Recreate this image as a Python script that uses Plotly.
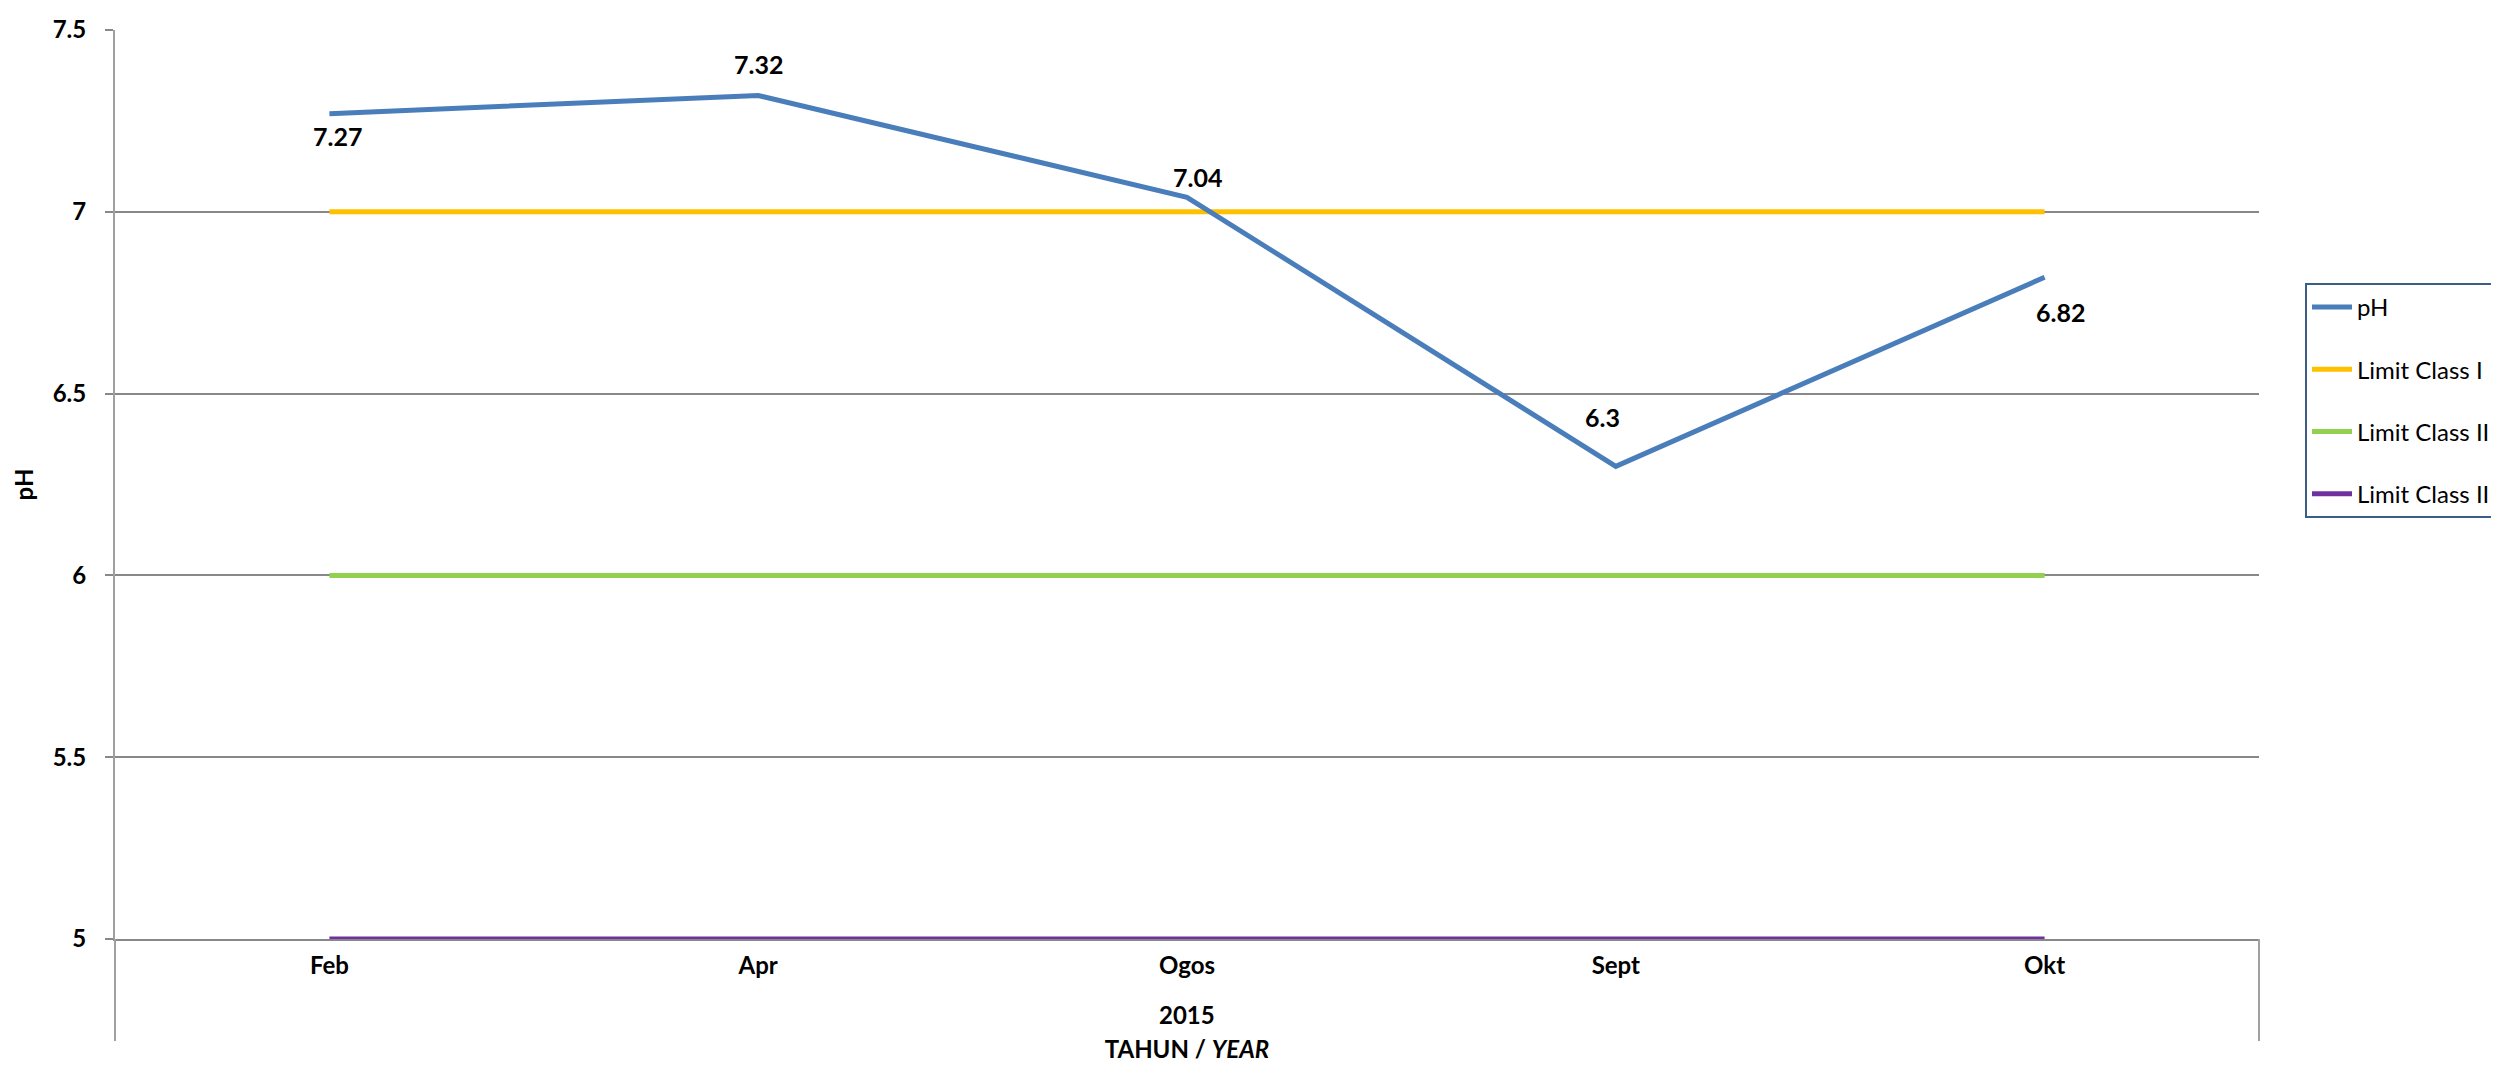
import plotly.graph_objects as go

months = ["Feb", "Apr", "Ogos", "Sept", "Okt"]
year_label = "2015"
ph_values = [7.27, 7.32, 7.04, 6.3, 6.82]
limit_class_1 = [7, 7, 7, 7, 7]
limit_class_2 = [6, 6, 6, 6, 6]
limit_class_3 = [5, 5, 5, 5, 5]
series_names = ["pH", "Limit Class I", "Limit Class II", "Limit Class III"]

# label offsets in px (style only)
label_dx = [8, 0, 10, -13, 16]
label_dy = [-22, 31, 20, 49, -35]

FONT = "Lato"
colors = ["#4A7EBB", "#FFC000", "#92D050", "#7030A0"]

fig = go.Figure()
limits = [(1, limit_class_1), (2, limit_class_2), (3, limit_class_3)]
for i, vals in limits:
    fig.add_trace(go.Scatter(x=months, y=vals, mode="lines", name=series_names[i],
                             line=dict(color=colors[i], width=5), legendgroup=str(i),
                             legendrank=i + 1))
fig.add_trace(go.Scatter(x=months, y=ph_values, mode="lines", name=series_names[0],
                         line=dict(color=colors[0], width=5), legendgroup="0", legendrank=1))

for m, v, dx, dy in zip(months, ph_values, label_dx, label_dy):
    fig.add_annotation(x=m, y=v, xref="x", yref="y", text=f"{v:g}",
                       showarrow=False, xshift=dx, yshift=dy,
                       font=dict(family=FONT, size=25, color="black", weight="bold"))

fig.add_annotation(x=0.5, y=-(1006 - 931) / 909, xref="paper", yref="paper",
                   text=year_label, showarrow=False, yanchor="middle",
                   font=dict(family=FONT, size=24, color="black", weight="bold"))

# category-group dividers below the plot
for xp in (0, 1):
    fig.add_shape(type="line", xref="paper", yref="paper", x0=xp, x1=xp,
                  y0=0, y1=-(1033 - 931) / 909, line=dict(color="#A0A0A0", width=2))

fig.update_layout(
    width=2499, height=1070,
    margin=dict(l=107, r=248, t=22, b=139, autoexpand=False),
    paper_bgcolor="white", plot_bgcolor="white",
    font=dict(family=FONT, color="black"),
    showlegend=True,
    legend=dict(x=(2297 - 107) / 2144, y=(931 - 275) / 909, xanchor="left", yanchor="top",
                bordercolor="#3B5D86", borderwidth=2, bgcolor="white",
                font=dict(family=FONT, size=24, color="black"),
                tracegroupgap=28, itemwidth=40, traceorder="grouped"),
    xaxis=dict(type="category", range=[-0.5, 4.5], showgrid=False, showline=True,
               linecolor="#888888", linewidth=1.5, ticks="", ticklabelstandoff=4,
               tickfont=dict(family=FONT, size=24, color="black", weight="bold"),
               title=dict(text="<b>TAHUN / <i>YEAR</i></b>", standoff=64,
                          font=dict(family=FONT, size=24, color="black"))),
    yaxis=dict(range=[5, 7.5], tickvals=[5, 5.5, 6, 6.5, 7, 7.5],
               ticktext=["5", "5.5", "6", "6.5", "7", "7.5"],
               showgrid=True, gridcolor="#888888", gridwidth=1.5,
               showline=True, linecolor="#A0A0A0", linewidth=2,
               ticks="outside", ticklen=8, tickcolor="#888888", tickwidth=1.5,
               ticklabelstandoff=14, zeroline=False,
               tickfont=dict(family=FONT, size=24, color="black", weight="bold"),
               title=dict(text="pH", standoff=12,
                          font=dict(family=FONT, size=24, color="black", weight="bold"))),
)

fig.write_html("out.html")
